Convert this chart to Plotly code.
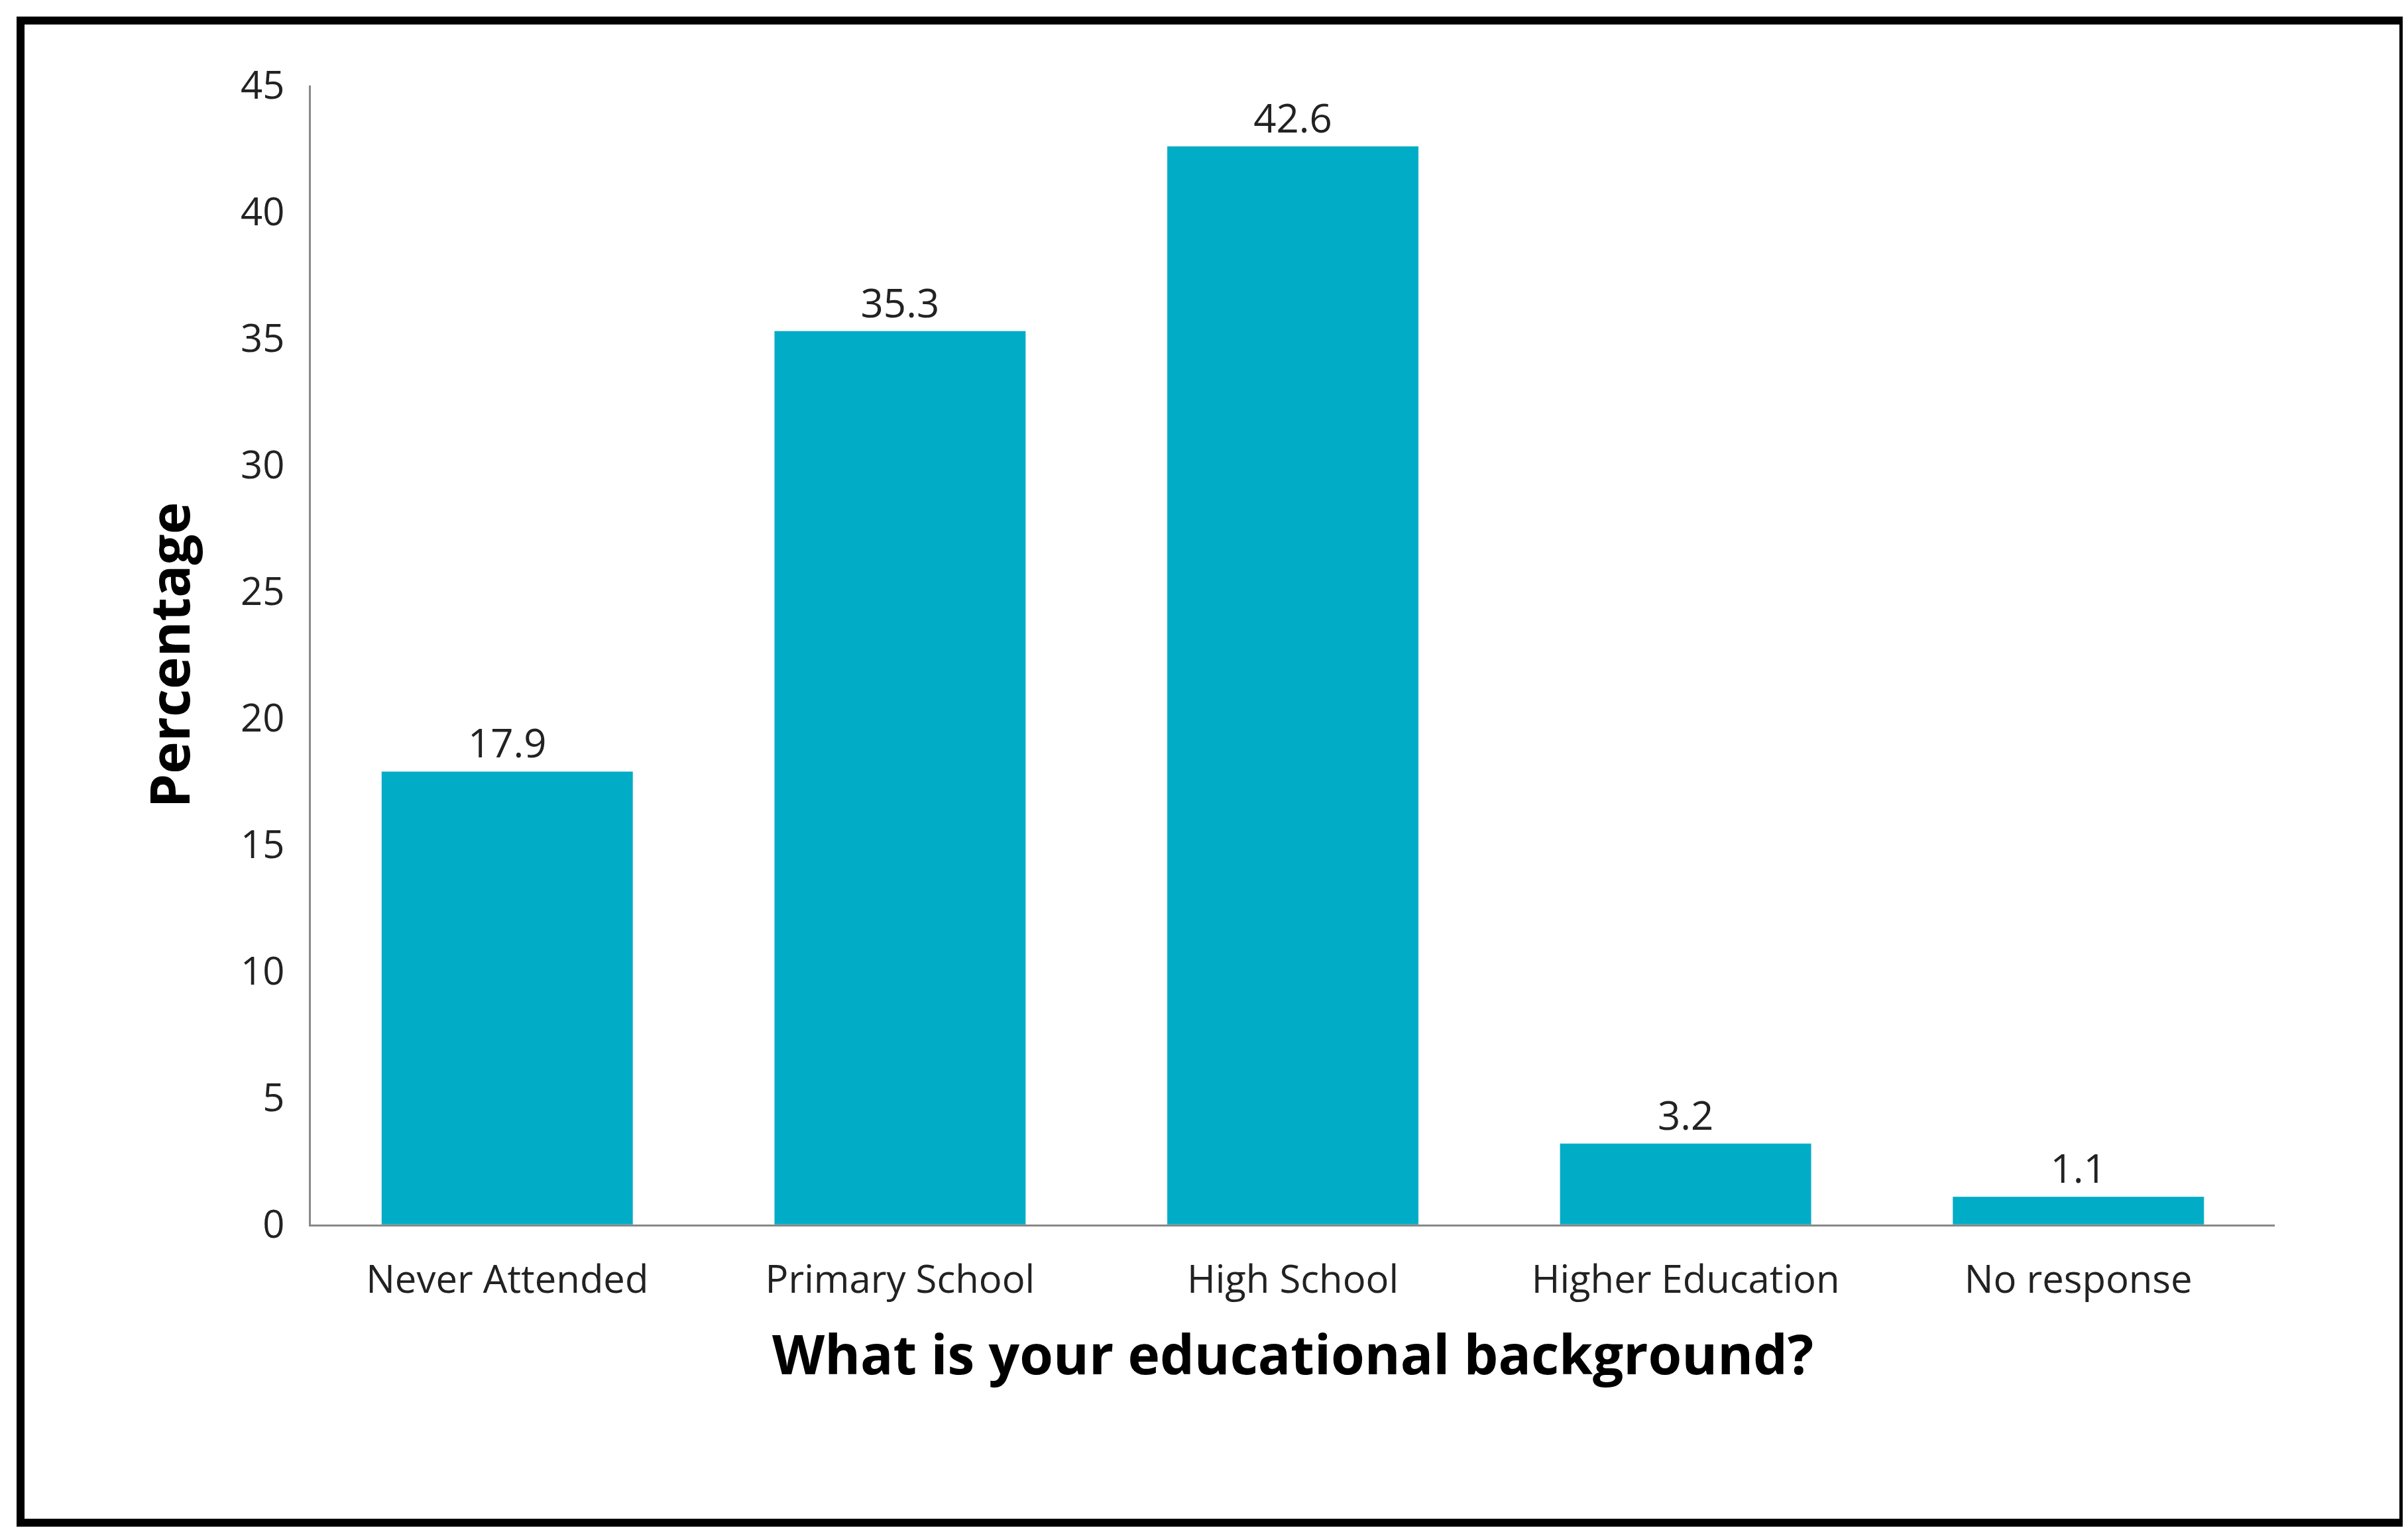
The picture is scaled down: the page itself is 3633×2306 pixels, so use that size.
import plotly.graph_objects as go

categories = ["Never Attended", "Primary School", "High School", "Higher Education", "No response"]
percentages = [17.9, 35.3, 42.6, 3.2, 1.1]

W, H = 3633, 2306
l, r, t, b = 461, 209, 121, 466
pw, ph = W - l - r, H - t - b

def px_x(x):
    return (x - l) / pw

def px_y(y):
    return (H - b - y) / ph

fig = go.Figure(go.Bar(
    x=categories, y=percentages, marker_color="#00ACC6", width=0.64,
    text=[f"{v:.1f}" for v in percentages], textposition="outside",
    textfont=dict(size=60, color="#222222"), cliponaxis=False,
))

fig.update_layout(
    width=W, height=H, margin=dict(l=l, r=r, t=t, b=b),
    plot_bgcolor="white", paper_bgcolor="white",
    font=dict(family="Open Sans", color="#222222"),
    showlegend=False,
    xaxis=dict(
        showline=True, linecolor="#888888", linewidth=3,
        tickfont=dict(size=58), ticks="", ticklabelstandoff=30,
        title=dict(text="<b>What is your educational background?</b>",
                   font=dict(size=82, color="black"), standoff=50),
    ),
    yaxis=dict(
        range=[0, 45], dtick=5, showgrid=False, zeroline=False,
        showline=True, linecolor="#888888", linewidth=3,
        tickfont=dict(size=58), ticks="", ticklabelstandoff=25,
        title=dict(text="<b>Percentage</b>", font=dict(size=82, color="black"), standoff=50),
    ),
    shapes=[dict(
        type="rect", xref="paper", yref="paper",
        x0=px_x(23), x1=px_x(3618), y0=px_y(23), y1=px_y(2290),
        line=dict(color="black", width=12),
    )],
)

fig.write_html("out.html")
